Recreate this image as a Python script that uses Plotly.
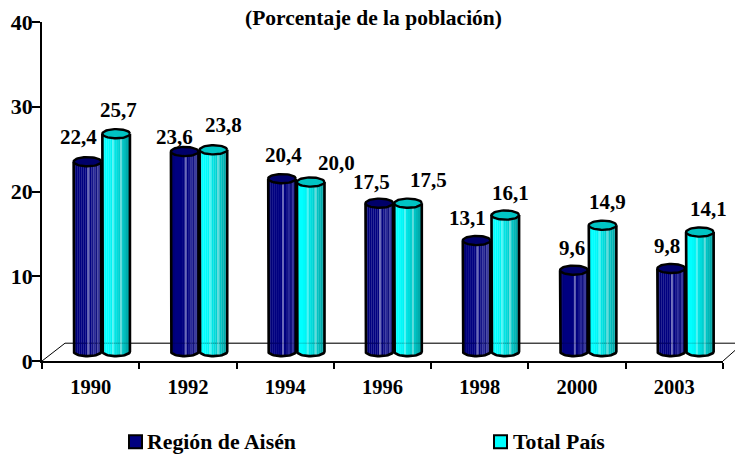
import numpy as np
import plotly.graph_objects as go

years = ["1990", "1992", "1994", "1996", "1998", "2000", "2003"]
region = [22.4, 23.6, 20.4, 17.5, 13.1, 9.6, 9.8]
total = [25.7, 23.8, 20.0, 17.5, 16.1, 14.9, 14.1]
region_text = ["22,4", "23,6", "20,4", "17,5", "13,1", "9,6", "9,8"]
total_text = ["25,7", "23,8", "20,0", "17,5", "16,1", "14,9", "14,1"]

# label offsets from the cylinder's top centre, px
region_dx = [-8.5, -10, 1, -8, -9, -2, -4]
region_dy = [24.6, 15, 24, 21, 23, 22, 22]
total_dx = [2, 10, 26, 20, 5, 5, 9]
total_dy = [24, 25, 19, 23, 22, 23, 23]

navy_stripes = ["#000070", "#000078", "#000080", "#000080", "#000080", "#000080", "#000080",
                "#6a6ab8", "#000080", "#141488", "#2a2a98", "#101080", "#3a3a9c", "#0c0c78"]
cyan_stripes = ["#00e6e6", "#00ffff", "#00ffff", "#00fafa", "#00f4f4", "#50f4f4", "#00e4e4",
                "#00dcdc", "#00d0d0", "#60dcdc", "#00c4c4", "#00b8b8", "#00acac", "#00a2a2"]

W, H = 735, 454
L, R, T, B = 42, 723, 21.5, 361.5
PX_UNIT = (R - L) / 7
PX_Y = (B - T) / 40
BASE = 9.5 / PX_Y        # cylinders stand 9.5px above the axis
RX = 13.8 / PX_UNIT      # half width
RY = 4.6 / PX_Y          # ellipse half height
C_NAVY = -3.2 / PX_UNIT
C_CYAN = 25.5 / PX_UNIT


def add_series(fig, vals, centre, stripes, cap):
    n = len(stripes)
    for j, col in enumerate(stripes):
        u0 = -1 + 2 * j / n
        mid = u0 + 1 / n
        bottom = BASE - RY * np.sqrt(max(0, 1 - mid * mid))
        fig.add_trace(go.Bar(
            x=years, y=[v + BASE - bottom for v in vals], base=bottom,
            width=2 * RX / n + 0.002, offset=centre + u0 * RX,
            marker=dict(color=col, line=dict(width=0)), showlegend=False, hoverinfo="skip"))
    t = np.linspace(0, 2 * np.pi, 49)
    lx, ly, cx, cy = [], [], [], []
    for i, v in enumerate(vals):
        c = i + centre
        top = v + BASE
        arc = np.linspace(np.pi, 2 * np.pi, 25)
        lx += [c - RX] + list(c + RX * np.cos(arc)) + [c + RX, None]
        ly += [top] + list(BASE + RY * np.sin(arc)) + [top, None]
        cx += list(c + RX * np.cos(t)) + [None]
        cy += list(top + RY * np.sin(t)) + [None]
    fig.add_trace(go.Scatter(x=lx, y=ly, xaxis="x2", mode="lines", line=dict(color="black", width=2.6),
                             showlegend=False, hoverinfo="skip", cliponaxis=False))
    fig.add_trace(go.Scatter(x=cx, y=cy, xaxis="x2", mode="lines", fill="toself", fillcolor=cap,
                             line=dict(color="black", width=2.4), showlegend=False, hoverinfo="skip",
                             cliponaxis=False))


fig = go.Figure()
add_series(fig, region, C_NAVY, navy_stripes, "#00006a")
add_series(fig, total, C_CYAN, cyan_stripes, "#00c4c4")

FONT = "Liberation Serif"
# legend entries: the text comes from the legend, the squares sit closer to it as shapes
for name, leg in [("Región de Aisén", "legend"), ("Total País", "legend2")]:
    fig.add_trace(go.Bar(x=[years[0]], y=[None], name=name, legend=leg,
                         marker=dict(color="rgba(0,0,0,0)", line=dict(color="rgba(0,0,0,0)", width=0))))

ann = []
for vals, texts, c, dxs, dys in [(region, region_text, C_NAVY, region_dx, region_dy),
                                 (total, total_text, C_CYAN, total_dx, total_dy)]:
    for i, v in enumerate(vals):
        ann.append(dict(x=i + c, y=v + BASE, xref="x2", yref="y", text=texts[i], showarrow=False,
                        xshift=dxs[i], yshift=dys[i], font=dict(family=FONT, size=21, color="black", weight=700)))

px = lambda x: (x - L) / (R - L)
py = lambda y: (B - y) / (B - T)
floor = [(px(42), 0, px(65), 2.1), (px(65), 2.1, px(735), 2.1), (px(723), 0, px(735), 1.25)]
shapes = [dict(type="line", xref="paper", yref="y", x0=a, y0=b, x1=c, y1=d, layer="below",
               line=dict(color="black", width=1)) for a, b, c, d in floor]
shapes.append(dict(type="line", xref="paper", yref="y", x0=px(73), y0=2.1, x1=px(716), y1=2.1, layer="above",
                   opacity=0.18, line=dict(color="black", width=1)))
for x0, col in [(129, "#000080"), (494, "#00ffff")]:
    shapes.append(dict(type="rect", xref="paper", yref="paper", x0=px(x0), x1=px(x0 + 13), y0=py(449), y1=py(436),
                       fillcolor=col, line=dict(color="black", width=2)))

LEG_FONT = dict(family=FONT, size=21.8, color="black", weight=700)
fig.update_layout(
    width=W, height=H, autosize=False,
    margin=dict(l=L, r=W - R, t=T, b=H - B, pad=0, autoexpand=False),
    paper_bgcolor="white", plot_bgcolor="white", barmode="overlay",
    font=dict(family=FONT, color="black"),
    title=dict(text="(Porcentaje de la población)", x=373.5 / W, y=1 - 17 / H, xanchor="center", yanchor="middle",
               font=dict(family=FONT, size=21.5, color="black", weight=700)),
    xaxis=dict(type="category", categoryorder="array", categoryarray=years, tickson="boundaries",
               range=[-0.5, 6.5], ticks="outside", ticklen=6, tickwidth=1.5, tickcolor="black",
               showline=True, linecolor="black", linewidth=1.5, showgrid=False, zeroline=False,
               ticklabelstandoff=7, automargin=False,
               tickfont=dict(family=FONT, size=20.5, color="black", weight=700)),
    xaxis2=dict(overlaying="x", range=[-0.5, 6.5], visible=False, anchor="y"),
    yaxis=dict(range=[0, 40], tickvals=[0, 10, 20, 30, 40], ticks="outside", ticklen=8, tickwidth=1.5,
               tickcolor="black", showline=True, linecolor="black", linewidth=1.5, showgrid=False, zeroline=False,
               automargin=False, ticklabelstandoff=-5, tickfont=dict(family=FONT, size=22, color="black", weight=700)),
    legend=dict(x=px(107), y=-0.234, xanchor="left", yanchor="middle", bgcolor="rgba(0,0,0,0)", font=LEG_FONT),
    legend2=dict(x=px(473), y=-0.234, xanchor="left", yanchor="middle", bgcolor="rgba(0,0,0,0)", font=LEG_FONT),
    annotations=ann, shapes=shapes,
)
fig.write_html("out.html", config={"displayModeBar": False},
               post_script="document.body.style.margin='0';")
